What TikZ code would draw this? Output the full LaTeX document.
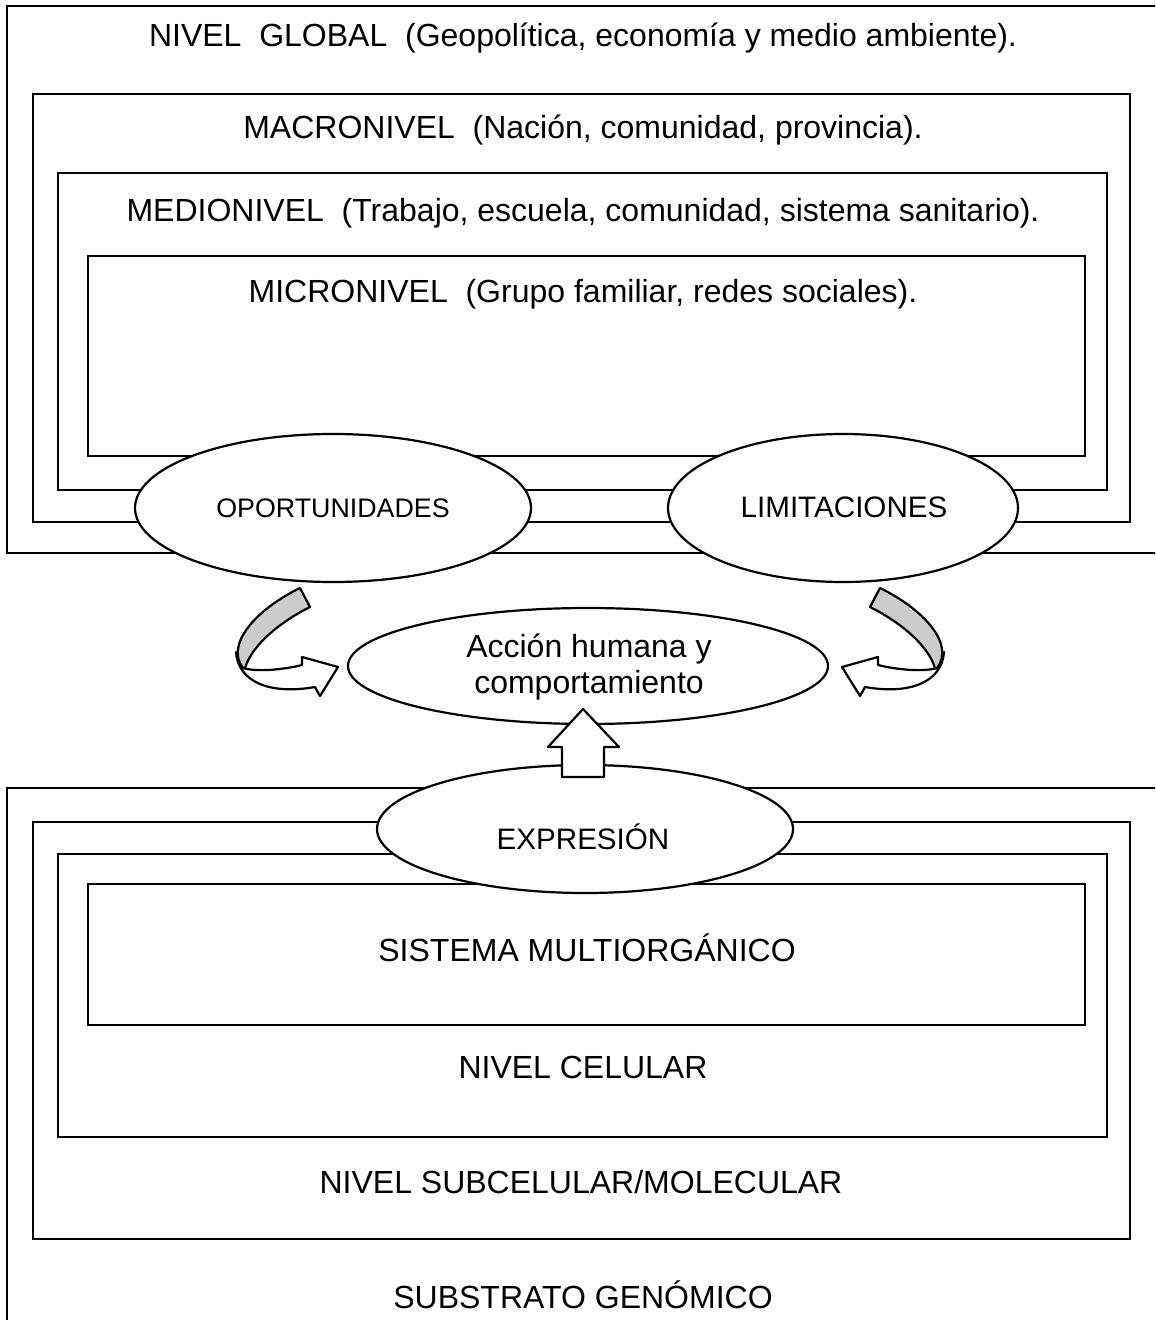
\documentclass[tikz,border=0pt]{standalone}
\usepackage{fontspec}
\setmainfont{Liberation Sans}
\usetikzlibrary{shapes.geometric}
\begin{document}
\begin{tikzpicture}[x=0.5pt,y=-0.5pt,
  frame/.style={draw=black,line width=1.1pt},
  oval/.style={ellipse,draw=black,fill=white,line width=1.1pt,inner sep=0pt},
  lbl/.style={anchor=base,font=\fontsize{16}{18.5}\selectfont,inner sep=0pt},
  smalllbl/.style={anchor=base,font=\fontsize{14.8}{17}\selectfont,inner sep=0pt},
  band/.style={draw=black,line width=1.1pt,line join=round},
]
\useasboundingbox (0,0) rectangle (1155,1320);
\clip (0,0) rectangle (1155,1320);

% upper nested levels
\draw[frame] (7,6) rectangle (1170,553);
\draw[frame] (33,94) rectangle (1130,522);
\draw[frame] (58,173) rectangle (1107,490);
\draw[frame] (88,256) rectangle (1085,456);

\node[lbl] (global) at (583,47) {NIVEL\ \ GLOBAL\ \ (Geopolítica, economía y medio ambiente).};
\node[lbl] (macro) at (583,139) {MACRONIVEL\ \ (Nación, comunidad, provincia).};
\node[lbl] (medio) at (583,222) {MEDIONIVEL\ \ (Trabajo, escuela, comunidad, sistema sanitario).};
\node[lbl] (micro) at (583,303) {MICRONIVEL\ \ (Grupo familiar, redes sociales).};

\node[oval,minimum width=198pt,minimum height=74pt] (opo) at (333,508) {};
\node[anchor=base,font=\fontsize{13.4}{16}\selectfont,inner sep=0pt] (opotxt) at (333,517) {OPORTUNIDADES};
\node[oval,minimum width=175pt,minimum height=74pt] (lim) at (843,508) {};
\node[smalllbl] (limtxt) at (844,517) {LIMITACIONES};

% lower nested levels
\draw[frame] (7,788) rectangle (1170,1330);
\draw[frame] (33,822) rectangle (1130,1239);
\draw[frame] (58,854) rectangle (1107,1137);
\draw[frame] (88,884) rectangle (1085,1025);

\node[lbl] (multi) at (587,961) {SISTEMA MULTIORGÁNICO};
\node[lbl] (celular) at (583,1078) {NIVEL CELULAR};
\node[lbl] (subcel) at (581,1193) {NIVEL SUBCELULAR/MOLECULAR};
\node[lbl] (genom) at (583,1308) {SUBSTRATO GENÓMICO};

\node[oval,minimum width=208pt,minimum height=64pt] (expr) at (585,829) {};
\node[smalllbl] (exprtxt) at (583,849) {EXPRESIÓN};

% central behaviour ellipse
\node[oval,minimum width=240pt,minimum height=58pt] (accion) at (588,666) {};
\node[font=\fontsize{16}{18}\selectfont,align=center,inner sep=0pt] (acciontxt) at (589,667)
      {Acción humana y\\comportamiento};

% block arrow from expression up to behaviour
\draw[band,fill=white] (562,777) -- (562,747) -- (548,747) -- (583,709)
  -- (619,747) -- (604,747) -- (604,777) -- cycle;

% curved arrows from opportunities and limitations
\newcommand{\bentarrow}{%
  \draw[band,fill=white] (236,652) .. controls (238,682) and (270,695) .. (315,687)
    -- (320,696) -- (338,667) -- (302,657) -- (302,665)
    .. controls (282,670) and (256,672) .. (243,668) -- cycle;
  \draw[band,fill=black!20] (300,588) -- (310,607)
    .. controls (280,622) and (252,645) .. (245,668)
    -- (243,668)
    .. controls (225,645) and (255,610) .. (300,588) -- cycle;}
\bentarrow
\begin{scope}[shift={(1180,0)},xscale=-1]
\bentarrow
\end{scope}
\end{tikzpicture}
\end{document}
